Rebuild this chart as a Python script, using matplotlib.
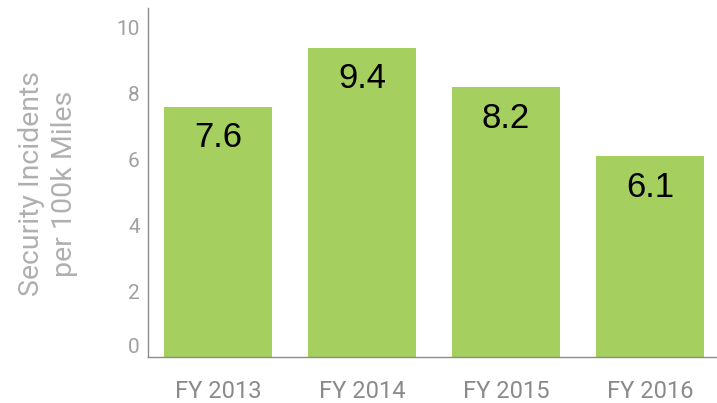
import matplotlib
matplotlib.use("Agg")
import matplotlib.pyplot as plt

years = ["FY 2013", "FY 2014", "FY 2015", "FY 2016"]
incidents = [7.6, 9.4, 8.2, 6.1]
yticks = [0, 2, 4, 6, 8, 10]

fig = plt.figure(figsize=(7.17, 4.03), dpi=100)
ax = fig.add_axes([0.2064, 0.1141, 0.7936, 0.866])

x = range(len(years))
bars = ax.bar(x, incidents, width=0.75, color="#a5cf5f")

for xi, v in zip(x, incidents):
    ax.annotate(f"{v}", (xi, v), xytext=(0, -10.5), textcoords="offset points",
                ha="center", va="top", fontsize=25, family="Liberation Sans",
                color="black")

ax.set_xlim(-0.486, 3.465)
ax.set_ylim(0, 10.6)
ax.set_xticks(list(x))
ax.set_xticklabels(years, family="Roboto", fontsize=17, color="#8a8a8a")
ax.set_yticks(yticks)
ax.set_yticklabels([str(t) for t in yticks], family="Roboto",
                   fontsize=15, color="#a0a0a0")
ax.get_yticklabels()[0].set_va("bottom")
ax.tick_params(axis="x", length=0, pad=16.5)
ax.tick_params(axis="y", length=0, pad=6)

for side in ["top", "right"]:
    ax.spines[side].set_visible(False)
for side in ["left", "bottom"]:
    ax.spines[side].set_color("#8c8c8c")
    ax.spines[side].set_linewidth(1)

fig.text(0.067, 1 - 184 / 403, "Security Incidents\nper 100k Miles", rotation=90,
         ha="center", va="center", family="Roboto",
         fontsize=20.5, color="#b0b0b0", linespacing=1.3)

fig.savefig("out.png", dpi=100)
